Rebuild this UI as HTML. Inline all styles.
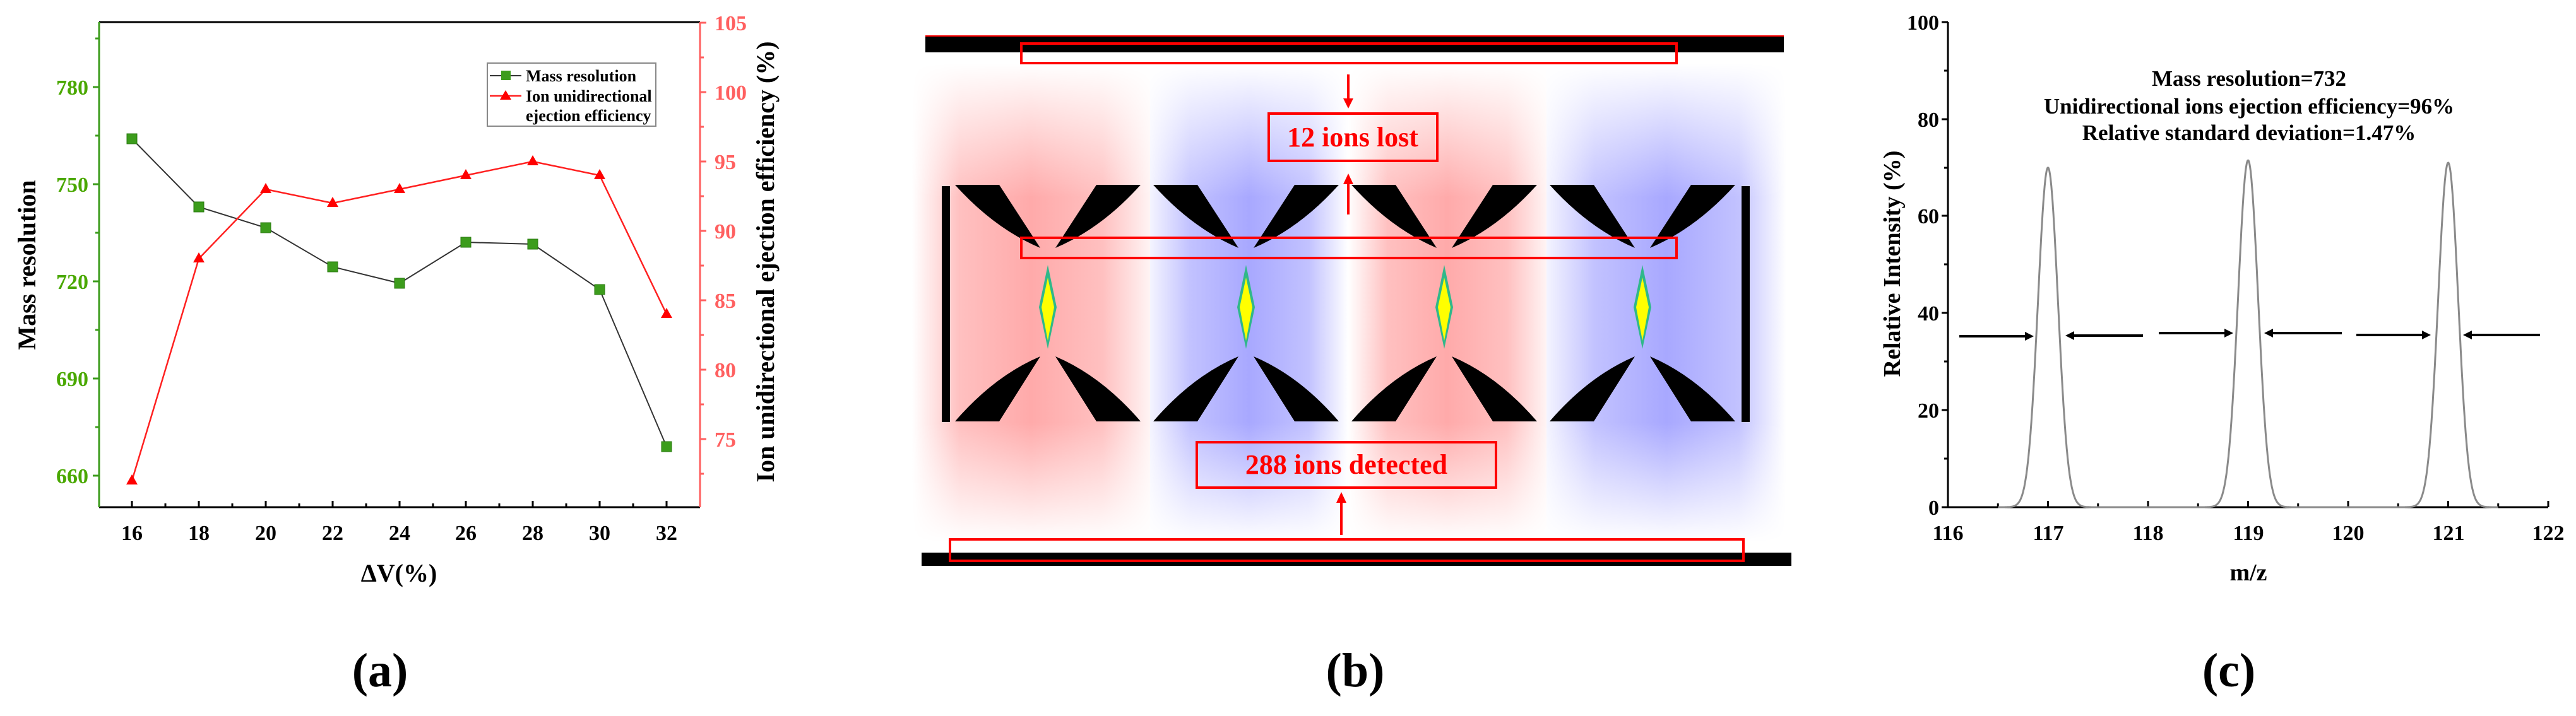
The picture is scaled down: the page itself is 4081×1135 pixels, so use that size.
<!DOCTYPE html>
<html><head><meta charset="utf-8"><style>
html,body{margin:0;padding:0;background:#fff}
svg{display:block}
text{font-family:"Liberation Serif",serif;font-weight:bold}
</style></head><body>
<svg id="s" width="4081" height="1135" viewBox="0 0 4081 1135" xmlns="http://www.w3.org/2000/svg">
<defs>
<linearGradient id="hr" x1="0" y1="0" x2="1" y2="0">
<stop offset="0" stop-color="#ffffff"/><stop offset="0.2" stop-color="#ffc0c0"/><stop offset="0.5" stop-color="#ffaaaa"/><stop offset="0.8" stop-color="#ffc0c0"/><stop offset="1" stop-color="#fff4f4"/></linearGradient>
<linearGradient id="hb" x1="0" y1="0" x2="1" y2="0">
<stop offset="0" stop-color="#f4f4ff"/><stop offset="0.2" stop-color="#c2c2ff"/><stop offset="0.5" stop-color="#a8a8ff"/><stop offset="0.8" stop-color="#c2c2ff"/><stop offset="1" stop-color="#ffffff"/></linearGradient>
<linearGradient id="vm" x1="0" y1="0" x2="0" y2="1">
<stop offset="0" stop-color="#000"/><stop offset="0.28" stop-color="#fff"/><stop offset="0.75" stop-color="#fff"/><stop offset="1" stop-color="#000"/></linearGradient>
<mask id="mk" maskUnits="userSpaceOnUse" x="1400" y="90" width="1500" height="790">
<rect x="1400" y="100" width="1500" height="760" fill="url(#vm)"/></mask>
<g id="cell">
<path d="M0,293 L70,293 L135,393 Q62,362 0,293 Z" fill="#000"/>
<path d="M294,293 L224,293 L159,393 Q232,362 294,293 Z" fill="#000"/>
<path d="M0,668 L70,668 L135,565 Q62,596 0,668 Z" fill="#000"/>
<path d="M294,668 L224,668 L159,565 Q232,596 294,668 Z" fill="#000"/>
<path d="M147,420 L161,487 L147,553 L133,487 Z" fill="#2fb88a"/>
<path d="M147,440 L157,487 L147,540 L137,487 Z" fill="#ffff00"/>
</g>
</defs>

<!-- ============ Panel (a) ============ -->
<g id="pa">
<line x1="157" y1="35" x2="1109" y2="35" stroke="#000" stroke-width="3"/>
<line x1="157" y1="804" x2="1109" y2="804" stroke="#000" stroke-width="3"/>
<line x1="157" y1="35" x2="157" y2="804" stroke="#3c9c1c" stroke-width="3"/>
<line x1="1109" y1="35" x2="1109" y2="804" stroke="#ff6060" stroke-width="3"/>
<g stroke="#3c9c1c" stroke-width="3">
<line x1="157" y1="138" x2="147" y2="138"/><line x1="157" y1="292" x2="147" y2="292"/><line x1="157" y1="446" x2="147" y2="446"/><line x1="157" y1="600" x2="147" y2="600"/><line x1="157" y1="754" x2="147" y2="754"/>
<line x1="157" y1="61" x2="151" y2="61"/><line x1="157" y1="215" x2="151" y2="215"/><line x1="157" y1="369" x2="151" y2="369"/><line x1="157" y1="523" x2="151" y2="523"/><line x1="157" y1="677" x2="151" y2="677"/>
</g>
<g fill="#4aa800" font-size="34" text-anchor="end">
<text x="140" y="150">780</text><text x="140" y="304">750</text><text x="140" y="458">720</text><text x="140" y="612">690</text><text x="140" y="766">660</text>
</g>
<g stroke="#ff6060" stroke-width="3">
<line x1="1109" y1="36" x2="1119" y2="36"/><line x1="1109" y1="146" x2="1119" y2="146"/><line x1="1109" y1="256" x2="1119" y2="256"/><line x1="1109" y1="366" x2="1119" y2="366"/><line x1="1109" y1="476" x2="1119" y2="476"/><line x1="1109" y1="586" x2="1119" y2="586"/><line x1="1109" y1="696" x2="1119" y2="696"/>
<line x1="1109" y1="91" x2="1115" y2="91"/><line x1="1109" y1="201" x2="1115" y2="201"/><line x1="1109" y1="311" x2="1115" y2="311"/><line x1="1109" y1="421" x2="1115" y2="421"/><line x1="1109" y1="531" x2="1115" y2="531"/><line x1="1109" y1="641" x2="1115" y2="641"/><line x1="1109" y1="751" x2="1115" y2="751"/>
</g>
<g fill="#ff6060" font-size="34" style="font-weight:normal">
<text x="1132" y="48">105</text><text x="1132" y="158">100</text><text x="1132" y="268">95</text><text x="1132" y="378">90</text><text x="1132" y="488">85</text><text x="1132" y="598">80</text><text x="1132" y="708">75</text>
</g>
<g stroke="#000" stroke-width="3">
<line x1="209" y1="804" x2="209" y2="794"/><line x1="315" y1="804" x2="315" y2="794"/><line x1="421" y1="804" x2="421" y2="794"/><line x1="527" y1="804" x2="527" y2="794"/><line x1="633" y1="804" x2="633" y2="794"/><line x1="738" y1="804" x2="738" y2="794"/><line x1="844" y1="804" x2="844" y2="794"/><line x1="950" y1="804" x2="950" y2="794"/><line x1="1056" y1="804" x2="1056" y2="794"/>
<line x1="262" y1="804" x2="262" y2="798"/><line x1="368" y1="804" x2="368" y2="798"/><line x1="474" y1="804" x2="474" y2="798"/><line x1="580" y1="804" x2="580" y2="798"/><line x1="686" y1="804" x2="686" y2="798"/><line x1="791" y1="804" x2="791" y2="798"/><line x1="897" y1="804" x2="897" y2="798"/><line x1="1003" y1="804" x2="1003" y2="798"/>
</g>
<g font-size="34" text-anchor="middle" fill="#000">
<text x="209" y="856">16</text><text x="315" y="856">18</text><text x="421" y="856">20</text><text x="527" y="856">22</text><text x="633" y="856">24</text><text x="738" y="856">26</text><text x="844" y="856">28</text><text x="950" y="856">30</text><text x="1056" y="856">32</text>
</g>
<text x="632" y="922" font-size="40" text-anchor="middle">ΔV(%)</text>
<text transform="translate(56,420) rotate(-90)" font-size="40" text-anchor="middle">Mass resolution</text>
<text transform="translate(1226,415) rotate(-90)" font-size="40" text-anchor="middle">Ion unidirectional ejection efficiency (%)</text>
<polyline points="209,220 315,328 421,361 527,423 633,449 738,384 844,387 950,459 1056,708" fill="none" stroke="#333" stroke-width="2"/>
<g fill="#3c9c1c" stroke="#2a7a10" stroke-width="1">
<rect x="201" y="212" width="16" height="16"/><rect x="307" y="320" width="16" height="16"/><rect x="413" y="353" width="16" height="16"/><rect x="519" y="415" width="16" height="16"/><rect x="625" y="441" width="16" height="16"/><rect x="730" y="376" width="16" height="16"/><rect x="836" y="379" width="16" height="16"/><rect x="942" y="451" width="16" height="16"/><rect x="1048" y="700" width="16" height="16"/>
</g>
<polyline points="209,762 315,410 421,300 527,322 633,300 738,278 844,256 950,278 1056,498" fill="none" stroke="#ff2020" stroke-width="2.5"/>
<g fill="#ff0000">
<path d="M209,752 l-9,16 h18 Z"/><path d="M315,400 l-9,16 h18 Z"/><path d="M421,290 l-9,16 h18 Z"/><path d="M527,312 l-9,16 h18 Z"/><path d="M633,290 l-9,16 h18 Z"/><path d="M738,268 l-9,16 h18 Z"/><path d="M844,246 l-9,16 h18 Z"/><path d="M950,268 l-9,16 h18 Z"/><path d="M1056,488 l-9,16 h18 Z"/>
</g>
<rect x="772" y="100" width="267" height="100" fill="#fff" stroke="#888" stroke-width="2"/>
<line x1="776" y1="120" x2="826" y2="120" stroke="#333" stroke-width="2"/>
<rect x="794" y="112" width="15" height="15" fill="#3c9c1c"/>
<line x1="776" y1="152" x2="826" y2="152" stroke="#ff2020" stroke-width="2.5"/>
<path d="M801,143 l-9,15 h18 Z" fill="#f00"/>
<g font-size="26" fill="#000"><text x="833" y="129">Mass resolution</text><text x="833" y="161">Ion unidirectional</text><text x="833" y="192">ejection efficiency</text></g>
<text x="602" y="1088" font-size="76" text-anchor="middle">(a)</text>
</g>

<!-- ============ Panel (b) ============ -->
<g id="pb">
<g mask="url(#mk)">
<rect x="1445" y="100" width="377" height="760" fill="url(#hr)"/>
<rect x="1822" y="100" width="314" height="760" fill="url(#hb)"/>
<rect x="2136" y="100" width="314" height="760" fill="url(#hr)"/>
<rect x="2450" y="100" width="380" height="760" fill="url(#hb)"/>
</g>
<rect x="1466" y="57" width="1360" height="26" fill="#000"/>
<line x1="1466" y1="57" x2="2826" y2="57" stroke="#f00" stroke-width="2"/>
<rect x="1460" y="876" width="1378" height="21" fill="#000"/>
<rect x="1492" y="295" width="13" height="374" fill="#000"/>
<rect x="2759" y="295" width="13" height="374" fill="#000"/>
<use href="#cell" x="1513"/><use href="#cell" x="1827"/><use href="#cell" x="2141"/><use href="#cell" x="2455"/>
<g fill="none" stroke="#f00" stroke-width="4">
<rect x="1618" y="69" width="1038" height="31"/>
<rect x="1618" y="377" width="1038" height="32"/>
<rect x="1505" y="855" width="1257" height="34"/>
<rect x="2010" y="180" width="267" height="75"/>
<rect x="1896" y="701" width="474" height="72"/>
</g>
<g stroke="#f00" stroke-width="4">
<line x1="2136" y1="118" x2="2136" y2="160"/><line x1="2136" y1="290" x2="2136" y2="340"/><line x1="2125" y1="795" x2="2125" y2="848"/>
</g>
<g fill="#f00">
<path d="M2128,156 L2144,156 L2136,172 Z"/><path d="M2128,292 L2144,292 L2136,275 Z"/><path d="M2117,797 L2133,797 L2125,780 Z"/>
</g>
<g fill="#f00" font-size="44" text-anchor="middle">
<text x="2143" y="232">12 ions lost</text><text x="2133" y="751">288 ions detected</text>
</g>
<text x="2147" y="1088" font-size="76" text-anchor="middle">(b)</text>
</g>

<!-- ============ Panel (c) ============ -->
<g id="pc">
<line x1="3086" y1="35" x2="3086" y2="805" stroke="#000" stroke-width="3"/>
<line x1="3085" y1="804" x2="4037" y2="804" stroke="#000" stroke-width="3"/>
<g stroke="#000" stroke-width="3">
<line x1="3086" y1="35" x2="3076" y2="35"/><line x1="3086" y1="189" x2="3076" y2="189"/><line x1="3086" y1="342" x2="3076" y2="342"/><line x1="3086" y1="496" x2="3076" y2="496"/><line x1="3086" y1="650" x2="3076" y2="650"/><line x1="3086" y1="804" x2="3076" y2="804"/>
<line x1="3086" y1="112" x2="3080" y2="112"/><line x1="3086" y1="266" x2="3080" y2="266"/><line x1="3086" y1="419" x2="3080" y2="419"/><line x1="3086" y1="573" x2="3080" y2="573"/><line x1="3086" y1="727" x2="3080" y2="727"/>
</g>
<g font-size="34" text-anchor="end" fill="#000">
<text x="3072" y="47">100</text><text x="3072" y="201">80</text><text x="3072" y="354">60</text><text x="3072" y="508">40</text><text x="3072" y="662">20</text><text x="3072" y="816">0</text>
</g>
<g id="xt" stroke="#000" stroke-width="3"></g>
<g font-size="34" text-anchor="middle" fill="#000">
<text x="3086" y="856">116</text><text x="3245" y="856">117</text><text x="3403" y="856">118</text><text x="3562" y="856">119</text><text x="3720" y="856">120</text><text x="3879" y="856">121</text><text x="4037" y="856">122</text>
</g>
<text x="3562" y="920" font-size="38" text-anchor="middle">m/z</text>
<text transform="translate(3010,418) rotate(-90)" font-size="38" text-anchor="middle">Relative Intensity (%)</text>
<g font-size="35" text-anchor="middle" fill="#000">
<text x="3563" y="136">Mass resolution=732</text>
<text x="3563" y="180">Unidirectional ions ejection efficiency=96%</text>
<text x="3563" y="222">Relative standard deviation=1.47%</text>
</g>
<path id="pk" fill="none" stroke="#8a8a8a" stroke-width="3" d=""/>
<g stroke="#000" stroke-width="4">
<line x1="3104" y1="533" x2="3212" y2="533"/><line x1="3285" y1="532" x2="3395" y2="532"/>
<line x1="3420" y1="528" x2="3528" y2="528"/><line x1="3600" y1="528" x2="3710" y2="528"/>
<line x1="3733" y1="531" x2="3841" y2="531"/><line x1="3916" y1="531" x2="4024" y2="531"/>
</g>
<g fill="#000">
<path d="M3222,533 l-14,-7 v14 Z"/><path d="M3272,532 l14,-7 v14 Z"/>
<path d="M3538,528 l-14,-7 v14 Z"/><path d="M3587,528 l14,-7 v14 Z"/>
<path d="M3851,531 l-14,-7 v14 Z"/><path d="M3902,531 l14,-7 v14 Z"/>
</g>
<text x="3531" y="1088" font-size="76" text-anchor="middle">(c)</text>
</g>
<script>
(function(){
 var X=function(m){return 3086+(m-116)*158.5;}, Y=function(i){return 804-i*7.69;};
 var peaks=[[117,70],[119,71.5],[121,71]], s=0.1, d="";
 var N=1200;
 for(var k=0;k<=N;k++){var m=116.5+5*k/N,v=0;
  for(var p=0;p<3;p++){var dx=m-peaks[p][0];v+=peaks[p][1]*Math.exp(-dx*dx/(2*s*s));}
  d+=(k?"L":"M")+X(m).toFixed(1)+","+Y(v).toFixed(1);}
 document.getElementById("pk").setAttribute("d",d);
 var g=document.getElementById("xt"),ns="http://www.w3.org/2000/svg";
 for(var t=0;t<=12;t++){var l=document.createElementNS(ns,"line");var x=3086+t*79.25;
  l.setAttribute("x1",x);l.setAttribute("x2",x);l.setAttribute("y1",804);l.setAttribute("y2",t%2?798:794);g.appendChild(l);}
})();
</script>
</svg>
</body></html>
